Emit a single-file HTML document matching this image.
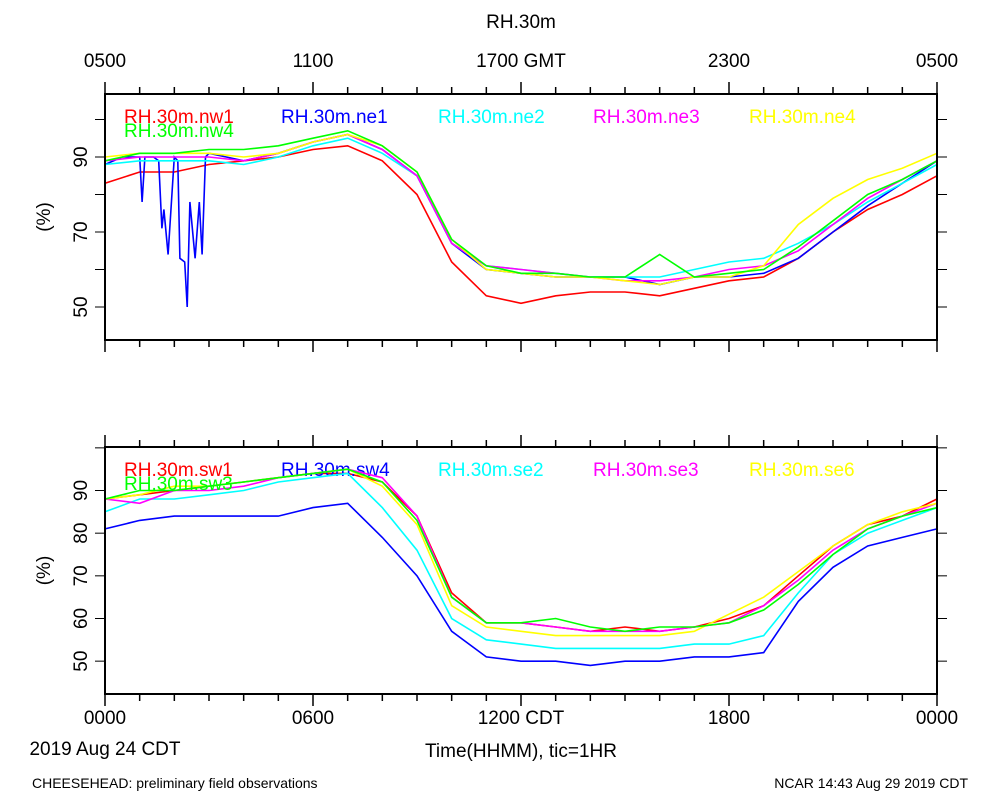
<!DOCTYPE html>
<html><head><meta charset="utf-8"><style>
body{margin:0;background:#fff;}
svg text{font-family:"Liberation Sans",sans-serif;}
</style></head><body>
<svg id="chart" width="1000" height="800" xmlns="http://www.w3.org/2000/svg">
<text x="521" y="28" font-size="19" text-anchor="middle">RH.30m</text>
<text x="521" y="757" font-size="19" text-anchor="middle">Time(HHMM), tic=1HR</text>
<text x="105" y="755" font-size="19" text-anchor="middle">2019 Aug 24 CDT</text>
<text x="32" y="788" font-size="14">CHEESEHEAD: preliminary field observations</text>
<text x="968" y="788" font-size="14" text-anchor="end">NCAR 14:43 Aug 29 2019 CDT</text>
<g id="top"></g>
<g id="bot"></g>
</svg>
<script>
const hours=[0,1,2,3,4,5,6,7,8,9,10,11,12,13,14,15,16,17,18,19,20,21,22,23,24];
const topTickLabels=["0500","1100","1700 GMT","2300","0500"];
const botTickLabels=["0000","0600","1200 CDT","1800","0000"];
const nw1=[83,86,86,88,89,90,92,93,89,80,62,53,51,53,54,54,53,55,57,58,63,70,76,80,85];
const ne1Hours=[0,0.5,1,1.07,1.15,1.4,1.55,1.64,1.7,1.82,2.0,2.1,2.16,2.3,2.37,2.45,2.6,2.72,2.8,2.9,3.0,3.5,4,5,6,7,8,9,10,11,12,13,14,15,16,17,18,19,20,21,22,23,24];
const ne1=[88,90,90,78,90,90,89,71,76,64,90,89,63,62,50,78,63,78,64,90,91,90,89,91,94,96,92,85,67,60,59,58,58,58,56,58,58,59,63,70,77,83,89];
const ne2=[88,89,89,89,88,90,93,95,91,85,67,61,60,59,58,58,58,60,62,63,67,72,78,83,88];
const ne3=[89,90,90,90,89,91,94,96,92,85,67,61,60,59,58,57,57,58,60,61,65,72,79,84,89];
const ne4=[90,91,91,91,90,91,94,96,93,86,68,60,59,58,58,57,56,58,58,61,72,79,84,87,91];
const nw4=[89,91,91,92,92,93,95,97,93,86,68,61,59,59,58,58,64,58,59,60,66,73,80,84,89];
const sw1=[88,89,90,91,92,93,94,94,92,84,66,59,59,58,57,58,57,58,60,63,70,77,82,84,88];
const sw4=[81,83,84,84,84,84,86,87,79,70,57,51,50,50,49,50,50,51,51,52,64,72,77,79,81];
const se2=[85,88,88,89,90,92,93,94,86,76,60,55,54,53,53,53,53,54,54,56,66,75,80,83,86];
const se3=[88,87,90,90,91,93,94,95,93,84,65,59,59,58,57,57,57,58,59,63,69,76,81,84,87];
const se6=[88,89,91,91,92,93,94,95,91,82,63,58,57,56,56,56,56,57,61,65,71,77,82,85,87];
const sw3=[88,90,90,91,92,93,94,95,92,83,65,59,59,60,58,57,58,58,59,62,68,75,81,84,86];

const NS="http://www.w3.org/2000/svg";
const L=105,R=937;
const xS=h=>L+(R-L)*h/24;
function mk(p,tag,a){const e=document.createElementNS(NS,tag);for(const k in a)e.setAttribute(k,a[k]);p.appendChild(e);return e;}
function panel(g,top,bot,vmin,vmax,tickVals,labelVals,series,topLabels,botLabels,pname){
  const yS=v=>bot-(v-vmin)/(vmax-vmin)*(bot-top);
  for(let h=0;h<=24;h++){const len=h%6===0?12:7;const x=xS(h);
    mk(g,'line',{x1:x,x2:x,y1:top,y2:top-len,stroke:'#000','stroke-width':1.5});
    mk(g,'line',{x1:x,x2:x,y1:bot,y2:bot+len,stroke:'#000','stroke-width':1.5});}
  tickVals.forEach(v=>{const y=yS(v);mk(g,'line',{x1:L,x2:L-10,y1:y,y2:y,stroke:'#000','stroke-width':1});mk(g,'line',{x1:R,x2:R+10,y1:y,y2:y,stroke:'#000','stroke-width':1});});
  labelVals.forEach(v=>{const y=yS(v);const t=mk(g,'text',{x:0,y:0,'font-size':19,'text-anchor':'middle',transform:`translate(${L-18},${y}) rotate(-90)`});t.textContent=v;
    
    });
  const yl=mk(g,'text',{'font-size':19,'text-anchor':'middle',transform:`translate(50,${(top+bot)/2}) rotate(-90)`});yl.textContent='(%)';
  
  
  const lbls=topLabels||botLabels;const ly=topLabels?top-27:bot+30;
  lbls.forEach((s,i)=>{const t=mk(g,'text',{x:xS(i*6),y:ly,'font-size':19,'text-anchor':'middle'});t.textContent=s;
    
    });
  series.forEach(s=>{const ts=s.t||hours;const d=ts.map((h,i)=>(i?'L':'M')+xS(h).toFixed(1)+','+yS(s.v[i]).toFixed(1)).join('');
    const p=mk(g,'path',{d:d,fill:'none',stroke:s.c,'stroke-width':1.6});
    
    
    const t=mk(g,'text',{x:s.lx,y:top+s.ly,'font-size':19,fill:s.c});t.textContent='RH.30m.'+s.n;
    
    });
  const f=mk(g,'rect',{x:L,y:top,width:R-L,height:bot-top,fill:'none',stroke:'#000','stroke-width':2});
  
  
}
panel(document.getElementById('top'),94,340,41.2,106.8,[50,60,70,80,90,100],[50,70,90],[
 {n:'nw1',v:nw1,c:'#f00',lx:124,ly:29},{n:'ne1',t:ne1Hours,v:ne1,c:'#00f',lx:281,ly:29},
 {n:'ne2',v:ne2,c:'#0ff',lx:438,ly:29},{n:'ne3',v:ne3,c:'#f0f',lx:593,ly:29},
 {n:'ne4',v:ne4,c:'#ff0',lx:749,ly:29},{n:'nw4',v:nw4,c:'#0f0',lx:124,ly:43}],topTickLabels,null,'top');
panel(document.getElementById('bot'),447,694,42.3,100.2,[50,60,70,80,90,100],[50,60,70,80,90],[
 {n:'sw1',v:sw1,c:'#f00',lx:124,ly:29},{n:'sw4',v:sw4,c:'#00f',lx:281,ly:29},
 {n:'se2',v:se2,c:'#0ff',lx:438,ly:29},{n:'se3',v:se3,c:'#f0f',lx:593,ly:29},
 {n:'se6',v:se6,c:'#ff0',lx:749,ly:29},{n:'sw3',v:sw3,c:'#0f0',lx:124,ly:43}],null,botTickLabels,'bottom');
</script>
</body></html>
